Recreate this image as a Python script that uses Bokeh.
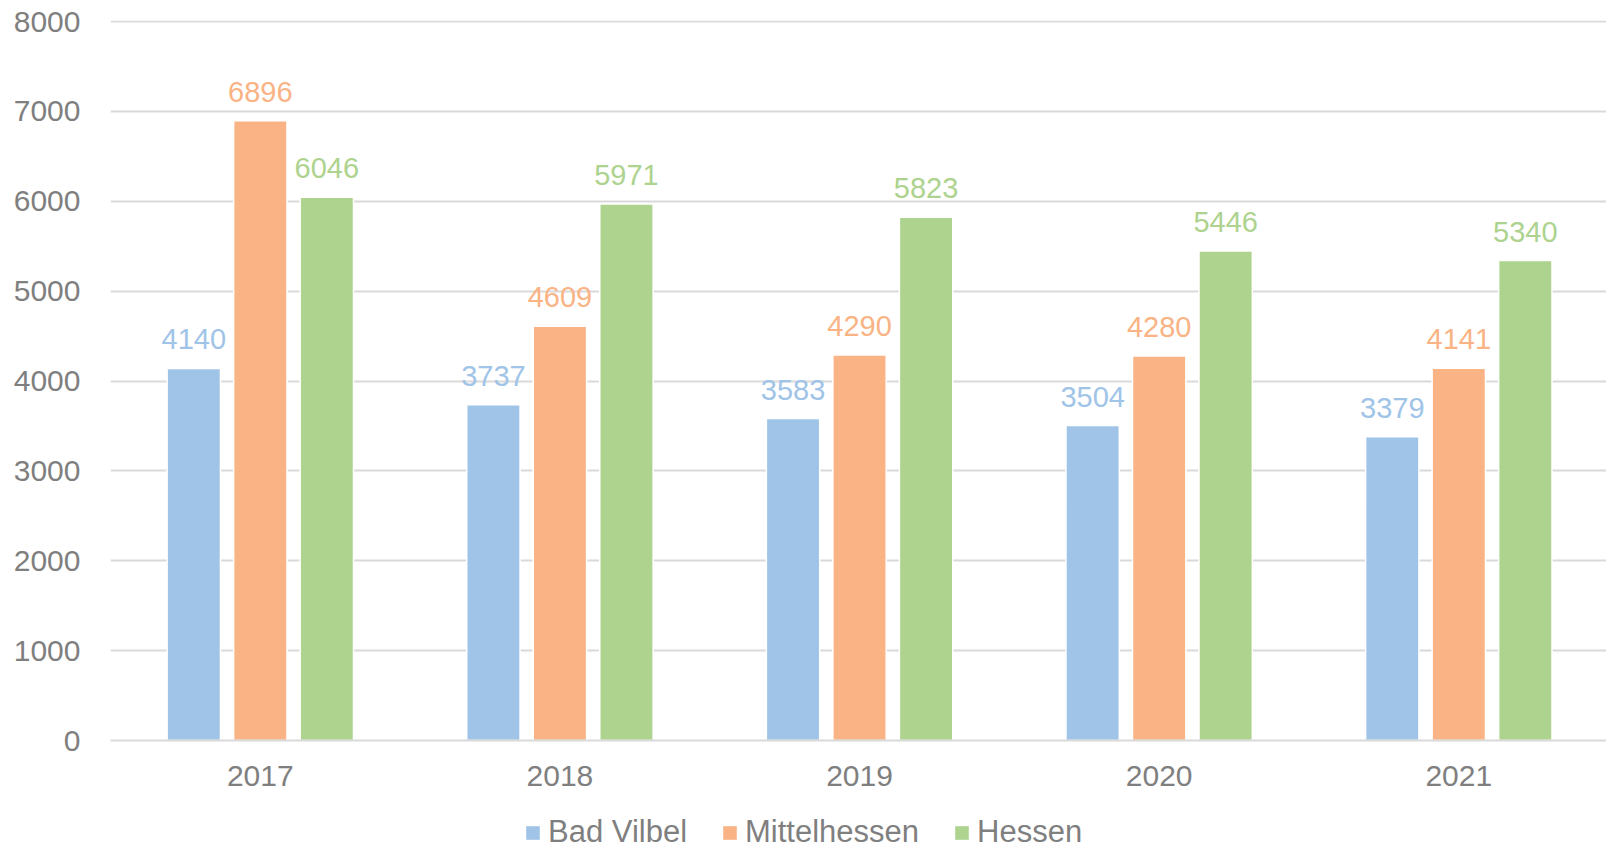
from bokeh.plotting import figure
from bokeh.layouts import column
from bokeh.models import ColumnDataSource, Range1d, Legend, LegendItem, FixedTicker
from bokeh.core.properties import value
from bokeh.embed import file_html
from bokeh.resources import INLINE

years = ["2017", "2018", "2019", "2020", "2021"]
series = ["Bad Vilbel", "Mittelhessen", "Hessen"]
bad_vilbel = [4140, 3737, 3583, 3504, 3379]
mittelhessen = [6896, 4609, 4290, 4280, 4141]
hessen = [6046, 5971, 5823, 5446, 5340]
colors = ["#A0C4E8", "#F9B384", "#ADD38E"]
y_ticks = [0, 1000, 2000, 3000, 4000, 5000, 6000, 7000, 8000]

FONT = "Liberation Sans"
GRAY = "#7F7F7F"

p = figure(width=1606, height=800, output_backend="svg", toolbar_location=None,
           x_range=Range1d(0, 4.993), y_range=Range1d(0, 8012))
p.min_border_left = 110
p.min_border_top = 20
p.min_border_right = 0
p.min_border_bottom = 60
p.outline_line_color = None
p.background_fill_color = "white"
p.border_fill_color = "white"

offsets = [-0.222, 0.0, 0.222]
for vals, off, col in zip([bad_vilbel, mittelhessen, hessen], offsets, colors):
    xs = [i + 0.5 + off for i in range(len(years))]
    src = ColumnDataSource(dict(x=xs, top=vals, lab=[str(v) for v in vals]))
    p.vbar(x="x", top="top", bottom=0, width=0.178, source=src,
           fill_color=col, line_color="white", line_width=1.5)
    p.text(x="x", y="top", text="lab", source=src, text_align="center",
           text_baseline="middle", y_offset=-29, text_color=col,
           text_font=value(FONT), text_font_size="29px")

# axes
p.yaxis.ticker = FixedTicker(ticks=y_ticks)
p.yaxis.axis_line_color = None
p.yaxis.major_tick_line_color = None
p.yaxis.minor_tick_line_color = None
p.yaxis.major_label_text_font = FONT
p.yaxis.major_label_text_font_size = "30px"
p.yaxis.major_label_text_color = GRAY
p.yaxis.major_label_standoff = 24

p.xaxis.ticker = FixedTicker(ticks=[i + 0.5 for i in range(len(years))])
p.xaxis.major_label_overrides = {i + 0.5: y for i, y in enumerate(years)}
p.xaxis.axis_line_color = "#D9D9D9"
p.xaxis.axis_line_width = 2
p.xaxis.major_tick_line_color = None
p.xaxis.minor_tick_line_color = None
p.xaxis.major_label_text_font = FONT
p.xaxis.major_label_text_font_size = "30px"
p.xaxis.major_label_text_color = GRAY
p.xaxis.major_label_standoff = 19

p.xgrid.grid_line_color = None
p.ygrid.grid_line_color = "#D9D9D9"
p.ygrid.grid_line_width = 2
p.ygrid.level = "underlay"

# legend strip below the chart (proxy glyphs sit outside the visible range)
lg = figure(width=1606, height=50, output_backend="svg", toolbar_location=None,
            x_range=Range1d(0, 1), y_range=Range1d(0, 1),
            x_axis_type=None, y_axis_type=None)
lg.min_border_left = 0
lg.min_border_right = 0
lg.min_border_top = 0
lg.min_border_bottom = 0
lg.outline_line_color = None
lg.xgrid.grid_line_color = None
lg.ygrid.grid_line_color = None
items = []
for s, col in zip(series, colors):
    r = lg.vbar(x=[-5], top=[-5], bottom=[-6], width=0.1, fill_color=col, line_color=None)
    items.append(LegendItem(label=s, renderers=[r]))
legend = Legend(items=items, orientation="horizontal", location=(414, 0))
legend.label_text_font = FONT
legend.label_text_font_size = "31px"
legend.label_text_color = GRAY
legend.glyph_width = 17
legend.glyph_height = 17
legend.label_standoff = 7
legend.spacing = 34
legend.border_line_color = None
legend.background_fill_alpha = 0
legend.margin = 0
legend.padding = 0
lg.add_layout(legend, "center")

layout = column(p, lg, spacing=0)
open("out.html", "w").write(file_html(layout, INLINE))
